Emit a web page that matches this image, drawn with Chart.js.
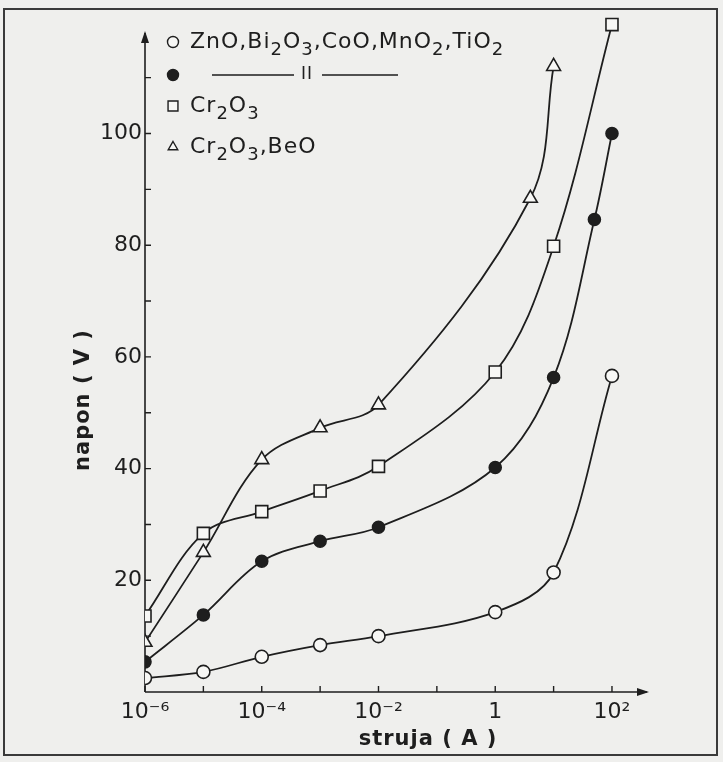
<!DOCTYPE html>
<html>
<head>
<meta charset="utf-8">
<title>napon - struja</title>
<script src="https://cdn.jsdelivr.net/npm/chart.js@4.4.0/dist/chart.umd.min.js"></script>
<style>
  html, body { margin: 0; padding: 0; background: #efefed; }
  #wrap { width: 723px; height: 762px; }
</style>
</head>
<body>
<div id="wrap"><canvas id="varistorChart" width="723" height="762"></canvas></div>
<script>
// struja (A) where each curve was measured
const currentsZnO = [1e-6, 1e-5, 1e-4, 1e-3, 1e-2, 1, 10, 100];
const currentsZnO2 = [1e-6, 1e-5, 1e-4, 1e-3, 1e-2, 1, 10, 50, 100];
const currentsCr = [1e-6, 1e-5, 1e-4, 1e-3, 1e-2, 1, 10, 100];
const currentsCrBe = [1e-6, 1e-5, 1e-4, 1e-3, 1e-2, 4, 10];

// napon (V)
const voltsZnO = [2.5, 3.6, 6.3, 8.4, 10.0, 14.3, 21.4, 56.6];
const voltsZnO2 = [5.4, 13.8, 23.4, 27.0, 29.5, 40.2, 56.3, 84.6, 100];
const voltsCr = [13.6, 28.4, 32.3, 36.0, 40.4, 57.3, 79.8, 119.5];
const voltsCrBe = [8.9, 25.0, 41.6, 47.3, 51.4, 88.4, 112];

// legend texts, "_" marks a subscript digit
const legendNames = ['ZnO,Bi_2O_3,CoO,MnO_2,TiO_2', '', 'Cr_2O_3', 'Cr_2O_3,BeO'];

// tick marks and which of them carry a label
const xTicks = [1e-6, 1e-5, 1e-4, 1e-3, 1e-2, 1e-1, 1, 10, 100];
const xTickLabels = { '-6': '10⁻⁶', '-4': '10⁻⁴', '-2': '10⁻²', '0': '1', '2': '10²' };
const yTicks = [10, 20, 30, 40, 50, 60, 70, 80, 90, 100, 110];
const yTickLabels = [20, 40, 60, 80, 100];

const INK = '#1e1e1e';
const FONT = '"DejaVu Sans", sans-serif';

function toPoints(xs, ys) {
  return xs.map(function(x, i) { return { x: x, y: ys[i] }; });
}

function series(data, style, filled, radius) {
  return {
    data: data,
    borderColor: INK,
    borderWidth: 1.8,
    tension: 0.35,
    pointStyle: style,
    pointRadius: radius,
    pointBorderWidth: 1.6,
    pointBorderColor: INK,
    pointBackgroundColor: filled ? INK : '#f7f7f5',
    fill: false
  };
}

// draws text where "_d" becomes a lowered smaller digit
function drawRich(ctx, text, x, y, size) {
  const parts = text.split(/(_\d)/);
  ctx.textBaseline = 'middle';
  ctx.textAlign = 'left';
  parts.forEach(function(p) {
    if (!p) return;
    if (p[0] === '_') {
      ctx.font = Math.round(size * 0.8) + 'px ' + FONT;
      ctx.fillText(p[1], x, y + size * 0.4);
      x += ctx.measureText(p[1]).width;
    } else {
      ctx.font = size + 'px ' + FONT;
      ctx.fillText(p, x, y);
      x += ctx.measureText(p).width;
    }
  });
}

const scanLook = {
  id: 'scanLook',
  beforeDraw: function(chart) {
    const ctx = chart.ctx;
    ctx.save();
    ctx.fillStyle = '#efefed';
    ctx.fillRect(0, 0, chart.width, chart.height);
    ctx.strokeStyle = '#3a3a3a';
    ctx.lineWidth = 2;
    ctx.strokeRect(4, 9, 713, 746);
    ctx.restore();
  },
  beforeDatasetsDraw: function(chart) {
    const ctx = chart.ctx;
    const xs = chart.scales.x, ys = chart.scales.y;
    const x0 = xs.left, y0 = ys.bottom;
    const yTop = ys.getPixelForValue(118);
    ctx.save();
    ctx.strokeStyle = INK;
    ctx.fillStyle = INK;
    ctx.lineWidth = 1.6;
    // axes
    ctx.beginPath();
    ctx.moveTo(x0, y0); ctx.lineTo(xs.right, y0);
    ctx.moveTo(x0, y0); ctx.lineTo(x0, yTop);
    ctx.stroke();
    // arrow heads
    ctx.beginPath();
    ctx.moveTo(xs.right + 2, y0); ctx.lineTo(xs.right - 10, y0 - 4); ctx.lineTo(xs.right - 10, y0 + 4);
    ctx.closePath(); ctx.fill();
    ctx.beginPath();
    ctx.moveTo(x0, yTop - 2); ctx.lineTo(x0 - 4, yTop + 10); ctx.lineTo(x0 + 4, yTop + 10);
    ctx.closePath(); ctx.fill();
    // inward tick marks
    ctx.lineWidth = 1.4;
    ctx.beginPath();
    xTicks.forEach(function(v) {
      const px = xs.getPixelForValue(v);
      ctx.moveTo(px, y0); ctx.lineTo(px, y0 - 6);
    });
    yTicks.forEach(function(v) {
      const py = ys.getPixelForValue(v);
      ctx.moveTo(x0, py); ctx.lineTo(x0 + 6, py);
    });
    ctx.stroke();
    ctx.restore();
  },
  afterDraw: function(chart) {
    const ctx = chart.ctx;
    ctx.save();
    ctx.fillStyle = INK;
    ctx.strokeStyle = INK;
    ctx.letterSpacing = '1px';

    // legend
    const rows = [42, 75, 106, 147];
    chart.data.datasets.forEach(function(ds, i) {
      ctx.fillStyle = ds.pointBackgroundColor;
      ctx.strokeStyle = INK;
      ctx.lineWidth = 1.4;
      Chart.helpers.drawPoint(ctx, {
        pointStyle: ds.pointStyle, rotation: 0,
        radius: ds.pointStyle === 'rect' ? 7 : 5.5, borderWidth: 1.4
      }, 173, rows[i]);
      ctx.fillStyle = INK;
      if (legendNames[i]) drawRich(ctx, legendNames[i], 190, rows[i], 22);
    });
    // ditto mark for the second row
    ctx.lineWidth = 1.6;
    ctx.beginPath();
    ctx.moveTo(212, rows[1]); ctx.lineTo(294, rows[1]);
    ctx.moveTo(322, rows[1]); ctx.lineTo(398, rows[1]);
    ctx.stroke();
    ctx.font = '17px ' + FONT;
    ctx.textAlign = 'center';
    ctx.textBaseline = 'middle';
    ctx.fillText('II', 307, rows[1]);

    // axis titles
    ctx.font = 'bold 21px ' + FONT;
    ctx.textAlign = 'center';
    ctx.textBaseline = 'middle';
    ctx.fillText('struja ( A )', 428, 740);
    ctx.translate(84, 400);
    ctx.rotate(-Math.PI / 2);
    ctx.fillText('napon ( V )', 0, 0);
    ctx.restore();
  }
};

const ctx = document.getElementById('varistorChart').getContext('2d');
const varistorChart = new Chart(ctx, {
  type: 'line',
  data: {
    datasets: [
      series(toPoints(currentsZnO, voltsZnO), 'circle', false, 6.5),
      series(toPoints(currentsZnO2, voltsZnO2), 'circle', true, 6),
      series(toPoints(currentsCr, voltsCr), 'rect', false, 8.5),
      series(toPoints(currentsCrBe, voltsCrBe), 'triangle', false, 8)
    ]
  },
  options: {
    responsive: false,
    animation: false,
    devicePixelRatio: 1,
    layout: { padding: { left: 0, top: 14, right: 76, bottom: 0 } },
    plugins: { legend: { display: false }, tooltip: { enabled: false } },
    scales: {
      x: {
        type: 'logarithmic',
        min: 1e-6,
        max: Math.pow(10, 2.6),
        afterBuildTicks: function(s) { s.ticks = xTicks.map(function(v) { return { value: v }; }); },
        afterFit: function(s) { s.height = 70; },
        grid: { display: false, drawTicks: false },
        border: { display: false },
        ticks: {
          autoSkip: false,
          maxRotation: 0,
          padding: 7,
          color: INK,
          font: { family: FONT, size: 22 },
          callback: function(v) {
            const e = String(Math.round(Math.log10(v)));
            return xTickLabels[e] || '';
          }
        }
      },
      y: {
        min: 0,
        max: 121,
        afterBuildTicks: function(s) { s.ticks = yTicks.map(function(v) { return { value: v }; }); },
        afterFit: function(s) { s.width = 145; },
        grid: { display: false, drawTicks: false },
        border: { display: false },
        ticks: {
          padding: 3,
          color: INK,
          font: { family: FONT, size: 22 },
          callback: function(v) { return yTickLabels.indexOf(v) >= 0 ? String(v) : ''; }
        }
      }
    }
  },
  plugins: [scanLook]
});
</script>
</body>
</html>
